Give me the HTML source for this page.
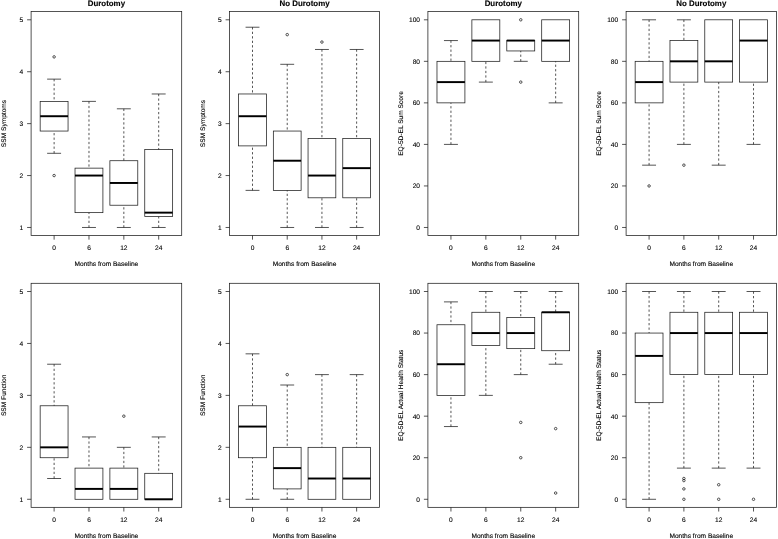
<!DOCTYPE html>
<html lang="en"><head><meta charset="utf-8"><title>Boxplots</title>
<style>html,body{margin:0;padding:0;background:#fff}svg{display:block}text{text-rendering:geometricPrecision;font-family:"Liberation Sans",Arial,Helvetica,sans-serif;fill:#000;stroke:#000;stroke-width:0.12px;paint-order:stroke}.t{font-size:6.6px}.h{font-size:7.9px;font-weight:bold}.l{stroke:#1c1c1c;stroke-width:0.75;fill:none}.d{stroke:#1c1c1c;stroke-width:0.75;fill:none;stroke-dasharray:2.25 2.25}.m{stroke:#000;stroke-width:1.95;fill:none}.c{stroke:#222;stroke-width:0.78;fill:none}</style></head><body>
<svg width="778" height="539" viewBox="0 0 778 539">
<rect width="778" height="539" fill="#fff"/>
<g>
<rect class="l" x="31.1" y="11.55" width="150.6" height="223.9"/>
<text class="h" x="106.4" y="6.25" text-anchor="middle">Durotomy</text>
<path class="l" d="M27.1 227.47H31.1"/>
<text class="t" x="23.2" y="229.87" text-anchor="end">1</text>
<path class="l" d="M27.1 175.55H31.1"/>
<text class="t" x="23.2" y="177.95" text-anchor="end">2</text>
<path class="l" d="M27.1 123.64H31.1"/>
<text class="t" x="23.2" y="126.04" text-anchor="end">3</text>
<path class="l" d="M27.1 71.72H31.1"/>
<text class="t" x="23.2" y="74.12" text-anchor="end">4</text>
<path class="l" d="M27.1 19.8H31.1"/>
<text class="t" x="23.2" y="22.2" text-anchor="end">5</text>
<path class="l" d="M54.11 235.45V239.65"/>
<text class="t" x="54.11" y="250.35" text-anchor="middle">0</text>
<path class="l" d="M88.97 235.45V239.65"/>
<text class="t" x="88.97" y="250.35" text-anchor="middle">6</text>
<path class="l" d="M123.83 235.45V239.65"/>
<text class="t" x="123.83" y="250.35" text-anchor="middle">12</text>
<path class="l" d="M158.69 235.45V239.65"/>
<text class="t" x="158.69" y="250.35" text-anchor="middle">24</text>
<text class="t" x="106.4" y="266.15" text-anchor="middle">Months from Baseline</text>
<text class="t" transform="translate(6.2 123.5) rotate(-90)" text-anchor="middle">SSM Symptoms</text>
<path class="d" d="M54.11 79.13V101.38"/>
<path class="d" d="M54.11 153.3V131.05"/>
<path class="l" d="M47.14 79.13H61.08"/>
<path class="l" d="M47.14 153.3H61.08"/>
<rect class="l" x="40.16" y="101.38" width="27.89" height="29.67"/>
<path class="m" d="M40.16 116.22H68.05"/>
<circle class="c" cx="54.11" cy="56.88" r="1.25"/>
<circle class="c" cx="54.11" cy="175.55" r="1.25"/>
<path class="d" d="M88.97 101.38V168.14"/>
<path class="d" d="M88.97 227.47V212.64"/>
<path class="l" d="M82 101.38H95.94"/>
<path class="l" d="M82 227.47H95.94"/>
<rect class="l" x="75.02" y="168.14" width="27.89" height="44.5"/>
<path class="m" d="M75.02 175.55H102.91"/>
<path class="d" d="M123.83 108.8V160.72"/>
<path class="d" d="M123.83 227.47V205.22"/>
<path class="l" d="M116.86 108.8H130.8"/>
<path class="l" d="M116.86 227.47H130.8"/>
<rect class="l" x="109.89" y="160.72" width="27.89" height="44.5"/>
<path class="m" d="M109.89 182.97H137.77"/>
<path class="d" d="M158.69 93.97V149.59"/>
<path class="d" d="M158.69 227.47V216.57"/>
<path class="l" d="M151.72 93.97H165.66"/>
<path class="l" d="M151.72 227.47H165.66"/>
<rect class="l" x="144.75" y="149.59" width="27.89" height="66.97"/>
<path class="m" d="M144.75 212.64H172.64"/>
</g>
<g>
<rect class="l" x="229.6" y="11.55" width="149.95" height="223.9"/>
<text class="h" x="304.57" y="6.25" text-anchor="middle">No Durotomy</text>
<path class="l" d="M225.6 227.47H229.6"/>
<text class="t" x="221.7" y="229.87" text-anchor="end">1</text>
<path class="l" d="M225.6 175.55H229.6"/>
<text class="t" x="221.7" y="177.95" text-anchor="end">2</text>
<path class="l" d="M225.6 123.64H229.6"/>
<text class="t" x="221.7" y="126.04" text-anchor="end">3</text>
<path class="l" d="M225.6 71.72H229.6"/>
<text class="t" x="221.7" y="74.12" text-anchor="end">4</text>
<path class="l" d="M225.6 19.8H229.6"/>
<text class="t" x="221.7" y="22.2" text-anchor="end">5</text>
<path class="l" d="M252.51 235.45V239.65"/>
<text class="t" x="252.51" y="250.35" text-anchor="middle">0</text>
<path class="l" d="M287.22 235.45V239.65"/>
<text class="t" x="287.22" y="250.35" text-anchor="middle">6</text>
<path class="l" d="M321.93 235.45V239.65"/>
<text class="t" x="321.93" y="250.35" text-anchor="middle">12</text>
<path class="l" d="M356.64 235.45V239.65"/>
<text class="t" x="356.64" y="250.35" text-anchor="middle">24</text>
<text class="t" x="304.57" y="266.15" text-anchor="middle">Months from Baseline</text>
<text class="t" transform="translate(204.7 123.5) rotate(-90)" text-anchor="middle">SSM Symptoms</text>
<path class="d" d="M252.51 27.22V93.97"/>
<path class="d" d="M252.51 190.39V145.89"/>
<path class="l" d="M245.57 27.22H259.45"/>
<path class="l" d="M245.57 190.39H259.45"/>
<rect class="l" x="238.62" y="93.97" width="27.77" height="51.92"/>
<path class="m" d="M238.62 116.22H266.39"/>
<path class="d" d="M287.22 64.3V131.05"/>
<path class="d" d="M287.22 227.47V190.39"/>
<path class="l" d="M280.28 64.3H294.16"/>
<path class="l" d="M280.28 227.47H294.16"/>
<rect class="l" x="273.34" y="131.05" width="27.77" height="59.33"/>
<path class="m" d="M273.34 160.72H301.1"/>
<circle class="c" cx="287.22" cy="34.63" r="1.25"/>
<path class="d" d="M321.93 49.47V138.47"/>
<path class="d" d="M321.93 227.47V197.8"/>
<path class="l" d="M314.99 49.47H328.87"/>
<path class="l" d="M314.99 227.47H328.87"/>
<rect class="l" x="308.05" y="138.47" width="27.77" height="59.33"/>
<path class="m" d="M308.05 175.55H335.81"/>
<circle class="c" cx="321.93" cy="42.05" r="1.25"/>
<path class="d" d="M356.64 49.47V138.47"/>
<path class="d" d="M356.64 227.47V197.8"/>
<path class="l" d="M349.7 49.47H363.58"/>
<path class="l" d="M349.7 227.47H363.58"/>
<rect class="l" x="342.76" y="138.47" width="27.77" height="59.33"/>
<path class="m" d="M342.76 168.14H370.53"/>
</g>
<g>
<rect class="l" x="427.9" y="11.55" width="150.8" height="223.9"/>
<text class="h" x="503.3" y="6.25" text-anchor="middle">Durotomy</text>
<path class="l" d="M423.9 227.47H427.9"/>
<text class="t" x="420" y="229.87" text-anchor="end">0</text>
<path class="l" d="M423.9 185.94H427.9"/>
<text class="t" x="420" y="188.34" text-anchor="end">20</text>
<path class="l" d="M423.9 144.4H427.9"/>
<text class="t" x="420" y="146.8" text-anchor="end">40</text>
<path class="l" d="M423.9 102.87H427.9"/>
<text class="t" x="420" y="105.27" text-anchor="end">60</text>
<path class="l" d="M423.9 61.33H427.9"/>
<text class="t" x="420" y="63.73" text-anchor="end">80</text>
<path class="l" d="M423.9 19.8H427.9"/>
<text class="t" x="420" y="22.2" text-anchor="end">100</text>
<path class="l" d="M450.94 235.45V239.65"/>
<text class="t" x="450.94" y="250.35" text-anchor="middle">0</text>
<path class="l" d="M485.85 235.45V239.65"/>
<text class="t" x="485.85" y="250.35" text-anchor="middle">6</text>
<path class="l" d="M520.75 235.45V239.65"/>
<text class="t" x="520.75" y="250.35" text-anchor="middle">12</text>
<path class="l" d="M555.66 235.45V239.65"/>
<text class="t" x="555.66" y="250.35" text-anchor="middle">24</text>
<text class="t" x="503.3" y="266.15" text-anchor="middle">Months from Baseline</text>
<text class="t" transform="translate(403 123.5) rotate(-90)" text-anchor="middle">EQ-5D-EL Sum Score</text>
<path class="d" d="M450.94 40.57V61.33"/>
<path class="d" d="M450.94 144.4V102.87"/>
<path class="l" d="M443.96 40.57H457.92"/>
<path class="l" d="M443.96 144.4H457.92"/>
<rect class="l" x="436.98" y="61.33" width="27.93" height="41.53"/>
<path class="m" d="M436.98 82.1H464.9"/>
<path class="d" d="M485.85 82.1V61.33"/>
<path class="l" d="M478.86 82.1H492.83"/>
<rect class="l" x="471.88" y="19.8" width="27.93" height="41.53"/>
<path class="m" d="M471.88 40.57H499.81"/>
<path class="d" d="M520.75 61.33V50.95"/>
<path class="l" d="M513.77 61.33H527.74"/>
<rect class="l" x="506.79" y="40.57" width="27.93" height="10.38"/>
<path class="m" d="M506.79 40.57H534.72"/>
<circle class="c" cx="520.75" cy="19.8" r="1.25"/>
<circle class="c" cx="520.75" cy="82.1" r="1.25"/>
<path class="d" d="M555.66 102.87V61.33"/>
<path class="l" d="M548.68 102.87H562.64"/>
<rect class="l" x="541.7" y="19.8" width="27.93" height="41.53"/>
<path class="m" d="M541.7 40.57H569.62"/>
</g>
<g>
<rect class="l" x="626.1" y="11.55" width="150.4" height="223.9"/>
<text class="h" x="701.3" y="6.25" text-anchor="middle">No Durotomy</text>
<path class="l" d="M622.1 227.47H626.1"/>
<text class="t" x="618.2" y="229.87" text-anchor="end">0</text>
<path class="l" d="M622.1 185.94H626.1"/>
<text class="t" x="618.2" y="188.34" text-anchor="end">20</text>
<path class="l" d="M622.1 144.4H626.1"/>
<text class="t" x="618.2" y="146.8" text-anchor="end">40</text>
<path class="l" d="M622.1 102.87H626.1"/>
<text class="t" x="618.2" y="105.27" text-anchor="end">60</text>
<path class="l" d="M622.1 61.33H626.1"/>
<text class="t" x="618.2" y="63.73" text-anchor="end">80</text>
<path class="l" d="M622.1 19.8H626.1"/>
<text class="t" x="618.2" y="22.2" text-anchor="end">100</text>
<path class="l" d="M649.08 235.45V239.65"/>
<text class="t" x="649.08" y="250.35" text-anchor="middle">0</text>
<path class="l" d="M683.89 235.45V239.65"/>
<text class="t" x="683.89" y="250.35" text-anchor="middle">6</text>
<path class="l" d="M718.71 235.45V239.65"/>
<text class="t" x="718.71" y="250.35" text-anchor="middle">12</text>
<path class="l" d="M753.52 235.45V239.65"/>
<text class="t" x="753.52" y="250.35" text-anchor="middle">24</text>
<text class="t" x="701.3" y="266.15" text-anchor="middle">Months from Baseline</text>
<text class="t" transform="translate(601.2 123.5) rotate(-90)" text-anchor="middle">EQ-5D-EL Sum Score</text>
<path class="d" d="M649.08 19.8V61.33"/>
<path class="d" d="M649.08 165.17V102.87"/>
<path class="l" d="M642.11 19.8H656.04"/>
<path class="l" d="M642.11 165.17H656.04"/>
<rect class="l" x="635.15" y="61.33" width="27.85" height="41.53"/>
<path class="m" d="M635.15 82.1H663"/>
<circle class="c" cx="649.08" cy="185.94" r="1.25"/>
<path class="d" d="M683.89 19.8V40.57"/>
<path class="d" d="M683.89 144.4V82.1"/>
<path class="l" d="M676.93 19.8H690.86"/>
<path class="l" d="M676.93 144.4H690.86"/>
<rect class="l" x="669.97" y="40.57" width="27.85" height="41.53"/>
<path class="m" d="M669.97 61.33H697.82"/>
<circle class="c" cx="683.89" cy="165.17" r="1.25"/>
<path class="d" d="M718.71 165.17V82.1"/>
<path class="l" d="M711.74 165.17H725.67"/>
<rect class="l" x="704.78" y="19.8" width="27.85" height="62.3"/>
<path class="m" d="M704.78 61.33H732.63"/>
<path class="d" d="M753.52 144.4V82.1"/>
<path class="l" d="M746.56 144.4H760.49"/>
<rect class="l" x="739.6" y="19.8" width="27.85" height="62.3"/>
<path class="m" d="M739.6 40.57H767.45"/>
</g>
<g>
<rect class="l" x="31.1" y="283.3" width="150.6" height="224.04"/>
<path class="l" d="M27.1 499.29H31.1"/>
<text class="t" x="23.2" y="501.69" text-anchor="end">1</text>
<path class="l" d="M27.1 447.34H31.1"/>
<text class="t" x="23.2" y="449.74" text-anchor="end">2</text>
<path class="l" d="M27.1 395.39H31.1"/>
<text class="t" x="23.2" y="397.79" text-anchor="end">3</text>
<path class="l" d="M27.1 343.45H31.1"/>
<text class="t" x="23.2" y="345.85" text-anchor="end">4</text>
<path class="l" d="M27.1 291.5H31.1"/>
<text class="t" x="23.2" y="293.9" text-anchor="end">5</text>
<path class="l" d="M54.11 507.34V511.54"/>
<text class="t" x="54.11" y="522.24" text-anchor="middle">0</text>
<path class="l" d="M88.97 507.34V511.54"/>
<text class="t" x="88.97" y="522.24" text-anchor="middle">6</text>
<path class="l" d="M123.83 507.34V511.54"/>
<text class="t" x="123.83" y="522.24" text-anchor="middle">12</text>
<path class="l" d="M158.69 507.34V511.54"/>
<text class="t" x="158.69" y="522.24" text-anchor="middle">24</text>
<text class="t" x="106.4" y="538.04" text-anchor="middle">Months from Baseline</text>
<text class="t" transform="translate(6.2 395.32) rotate(-90)" text-anchor="middle">SSM Function</text>
<path class="d" d="M54.11 364.23V405.78"/>
<path class="d" d="M54.11 478.51V457.73"/>
<path class="l" d="M47.14 364.23H61.08"/>
<path class="l" d="M47.14 478.51H61.08"/>
<rect class="l" x="40.16" y="405.78" width="27.89" height="51.95"/>
<path class="m" d="M40.16 447.34H68.05"/>
<path class="d" d="M88.97 436.95V468.12"/>
<path class="l" d="M82 436.95H95.94"/>
<rect class="l" x="75.02" y="468.12" width="27.89" height="31.17"/>
<path class="m" d="M75.02 488.9H102.91"/>
<path class="d" d="M123.83 447.34V468.12"/>
<path class="l" d="M116.86 447.34H130.8"/>
<rect class="l" x="109.89" y="468.12" width="27.89" height="31.17"/>
<path class="m" d="M109.89 488.9H137.77"/>
<circle class="c" cx="123.83" cy="416.17" r="1.25"/>
<path class="d" d="M158.69 436.95V473.32"/>
<path class="l" d="M151.72 436.95H165.66"/>
<rect class="l" x="144.75" y="473.32" width="27.89" height="25.97"/>
<path class="m" d="M144.75 499.29H172.64"/>
</g>
<g>
<rect class="l" x="229.6" y="283.3" width="149.95" height="224.04"/>
<path class="l" d="M225.6 499.29H229.6"/>
<text class="t" x="221.7" y="501.69" text-anchor="end">1</text>
<path class="l" d="M225.6 447.34H229.6"/>
<text class="t" x="221.7" y="449.74" text-anchor="end">2</text>
<path class="l" d="M225.6 395.39H229.6"/>
<text class="t" x="221.7" y="397.79" text-anchor="end">3</text>
<path class="l" d="M225.6 343.45H229.6"/>
<text class="t" x="221.7" y="345.85" text-anchor="end">4</text>
<path class="l" d="M225.6 291.5H229.6"/>
<text class="t" x="221.7" y="293.9" text-anchor="end">5</text>
<path class="l" d="M252.51 507.34V511.54"/>
<text class="t" x="252.51" y="522.24" text-anchor="middle">0</text>
<path class="l" d="M287.22 507.34V511.54"/>
<text class="t" x="287.22" y="522.24" text-anchor="middle">6</text>
<path class="l" d="M321.93 507.34V511.54"/>
<text class="t" x="321.93" y="522.24" text-anchor="middle">12</text>
<path class="l" d="M356.64 507.34V511.54"/>
<text class="t" x="356.64" y="522.24" text-anchor="middle">24</text>
<text class="t" x="304.57" y="538.04" text-anchor="middle">Months from Baseline</text>
<text class="t" transform="translate(204.7 395.32) rotate(-90)" text-anchor="middle">SSM Function</text>
<path class="d" d="M252.51 353.84V405.78"/>
<path class="d" d="M252.51 499.29V457.73"/>
<path class="l" d="M245.57 353.84H259.45"/>
<path class="l" d="M245.57 499.29H259.45"/>
<rect class="l" x="238.62" y="405.78" width="27.77" height="51.95"/>
<path class="m" d="M238.62 426.56H266.39"/>
<path class="d" d="M287.22 385.01V447.34"/>
<path class="d" d="M287.22 499.29V488.9"/>
<path class="l" d="M280.28 385.01H294.16"/>
<path class="l" d="M280.28 499.29H294.16"/>
<rect class="l" x="273.34" y="447.34" width="27.77" height="41.56"/>
<path class="m" d="M273.34 468.12H301.1"/>
<circle class="c" cx="287.22" cy="374.62" r="1.25"/>
<path class="d" d="M321.93 374.62V447.34"/>
<path class="l" d="M314.99 374.62H328.87"/>
<rect class="l" x="308.05" y="447.34" width="27.77" height="51.95"/>
<path class="m" d="M308.05 478.51H335.81"/>
<path class="d" d="M356.64 374.62V447.34"/>
<path class="l" d="M349.7 374.62H363.58"/>
<rect class="l" x="342.76" y="447.34" width="27.77" height="51.95"/>
<path class="m" d="M342.76 478.51H370.53"/>
</g>
<g>
<rect class="l" x="427.9" y="283.3" width="150.8" height="224.04"/>
<path class="l" d="M423.9 499.29H427.9"/>
<text class="t" x="420" y="501.69" text-anchor="end">0</text>
<path class="l" d="M423.9 457.73H427.9"/>
<text class="t" x="420" y="460.13" text-anchor="end">20</text>
<path class="l" d="M423.9 416.17H427.9"/>
<text class="t" x="420" y="418.57" text-anchor="end">40</text>
<path class="l" d="M423.9 374.62H427.9"/>
<text class="t" x="420" y="377.02" text-anchor="end">60</text>
<path class="l" d="M423.9 333.06H427.9"/>
<text class="t" x="420" y="335.46" text-anchor="end">80</text>
<path class="l" d="M423.9 291.5H427.9"/>
<text class="t" x="420" y="293.9" text-anchor="end">100</text>
<path class="l" d="M450.94 507.34V511.54"/>
<text class="t" x="450.94" y="522.24" text-anchor="middle">0</text>
<path class="l" d="M485.85 507.34V511.54"/>
<text class="t" x="485.85" y="522.24" text-anchor="middle">6</text>
<path class="l" d="M520.75 507.34V511.54"/>
<text class="t" x="520.75" y="522.24" text-anchor="middle">12</text>
<path class="l" d="M555.66 507.34V511.54"/>
<text class="t" x="555.66" y="522.24" text-anchor="middle">24</text>
<text class="t" x="503.3" y="538.04" text-anchor="middle">Months from Baseline</text>
<text class="t" transform="translate(403 395.32) rotate(-90)" text-anchor="middle">EQ-5D-EL Actual Health Status</text>
<path class="d" d="M450.94 301.89V324.75"/>
<path class="d" d="M450.94 426.56V395.39"/>
<path class="l" d="M443.96 301.89H457.92"/>
<path class="l" d="M443.96 426.56H457.92"/>
<rect class="l" x="436.98" y="324.75" width="27.93" height="70.65"/>
<path class="m" d="M436.98 364.23H464.9"/>
<path class="d" d="M485.85 291.5V312.28"/>
<path class="d" d="M485.85 395.39V345.53"/>
<path class="l" d="M478.86 291.5H492.83"/>
<path class="l" d="M478.86 395.39H492.83"/>
<rect class="l" x="471.88" y="312.28" width="27.93" height="33.25"/>
<path class="m" d="M471.88 333.06H499.81"/>
<path class="d" d="M520.75 291.5V317.47"/>
<path class="d" d="M520.75 374.62V348.64"/>
<path class="l" d="M513.77 291.5H527.74"/>
<path class="l" d="M513.77 374.62H527.74"/>
<rect class="l" x="506.79" y="317.47" width="27.93" height="31.17"/>
<path class="m" d="M506.79 333.06H534.72"/>
<circle class="c" cx="520.75" cy="422.41" r="1.25"/>
<circle class="c" cx="520.75" cy="457.73" r="1.25"/>
<path class="d" d="M555.66 291.5V312.28"/>
<path class="d" d="M555.66 364.23V350.72"/>
<path class="l" d="M548.68 291.5H562.64"/>
<path class="l" d="M548.68 364.23H562.64"/>
<rect class="l" x="541.7" y="312.28" width="27.93" height="38.44"/>
<path class="m" d="M541.7 312.28H569.62"/>
<circle class="c" cx="555.66" cy="428.64" r="1.25"/>
<circle class="c" cx="555.66" cy="493.06" r="1.25"/>
</g>
<g>
<rect class="l" x="626.1" y="283.3" width="150.4" height="224.04"/>
<path class="l" d="M622.1 499.29H626.1"/>
<text class="t" x="618.2" y="501.69" text-anchor="end">0</text>
<path class="l" d="M622.1 457.73H626.1"/>
<text class="t" x="618.2" y="460.13" text-anchor="end">20</text>
<path class="l" d="M622.1 416.17H626.1"/>
<text class="t" x="618.2" y="418.57" text-anchor="end">40</text>
<path class="l" d="M622.1 374.62H626.1"/>
<text class="t" x="618.2" y="377.02" text-anchor="end">60</text>
<path class="l" d="M622.1 333.06H626.1"/>
<text class="t" x="618.2" y="335.46" text-anchor="end">80</text>
<path class="l" d="M622.1 291.5H626.1"/>
<text class="t" x="618.2" y="293.9" text-anchor="end">100</text>
<path class="l" d="M649.08 507.34V511.54"/>
<text class="t" x="649.08" y="522.24" text-anchor="middle">0</text>
<path class="l" d="M683.89 507.34V511.54"/>
<text class="t" x="683.89" y="522.24" text-anchor="middle">6</text>
<path class="l" d="M718.71 507.34V511.54"/>
<text class="t" x="718.71" y="522.24" text-anchor="middle">12</text>
<path class="l" d="M753.52 507.34V511.54"/>
<text class="t" x="753.52" y="522.24" text-anchor="middle">24</text>
<text class="t" x="701.3" y="538.04" text-anchor="middle">Months from Baseline</text>
<text class="t" transform="translate(601.2 395.32) rotate(-90)" text-anchor="middle">EQ-5D-EL Actual Health Status</text>
<path class="d" d="M649.08 291.5V333.06"/>
<path class="d" d="M649.08 499.29V402.67"/>
<path class="l" d="M642.11 291.5H656.04"/>
<path class="l" d="M642.11 499.29H656.04"/>
<rect class="l" x="635.15" y="333.06" width="27.85" height="69.61"/>
<path class="m" d="M635.15 355.91H663"/>
<path class="d" d="M683.89 291.5V312.28"/>
<path class="d" d="M683.89 468.12V374.62"/>
<path class="l" d="M676.93 291.5H690.86"/>
<path class="l" d="M676.93 468.12H690.86"/>
<rect class="l" x="669.97" y="312.28" width="27.85" height="62.34"/>
<path class="m" d="M669.97 333.06H697.82"/>
<circle class="c" cx="683.89" cy="478.51" r="1.25"/>
<circle class="c" cx="683.89" cy="480.59" r="1.25"/>
<circle class="c" cx="683.89" cy="488.9" r="1.25"/>
<circle class="c" cx="683.89" cy="499.29" r="1.25"/>
<path class="d" d="M718.71 291.5V312.28"/>
<path class="d" d="M718.71 468.12V374.62"/>
<path class="l" d="M711.74 291.5H725.67"/>
<path class="l" d="M711.74 468.12H725.67"/>
<rect class="l" x="704.78" y="312.28" width="27.85" height="62.34"/>
<path class="m" d="M704.78 333.06H732.63"/>
<circle class="c" cx="718.71" cy="484.74" r="1.25"/>
<circle class="c" cx="718.71" cy="499.29" r="1.25"/>
<path class="d" d="M753.52 291.5V312.28"/>
<path class="d" d="M753.52 468.12V374.62"/>
<path class="l" d="M746.56 291.5H760.49"/>
<path class="l" d="M746.56 468.12H760.49"/>
<rect class="l" x="739.6" y="312.28" width="27.85" height="62.34"/>
<path class="m" d="M739.6 333.06H767.45"/>
<circle class="c" cx="753.52" cy="499.29" r="1.25"/>
</g>
</svg></body></html>
